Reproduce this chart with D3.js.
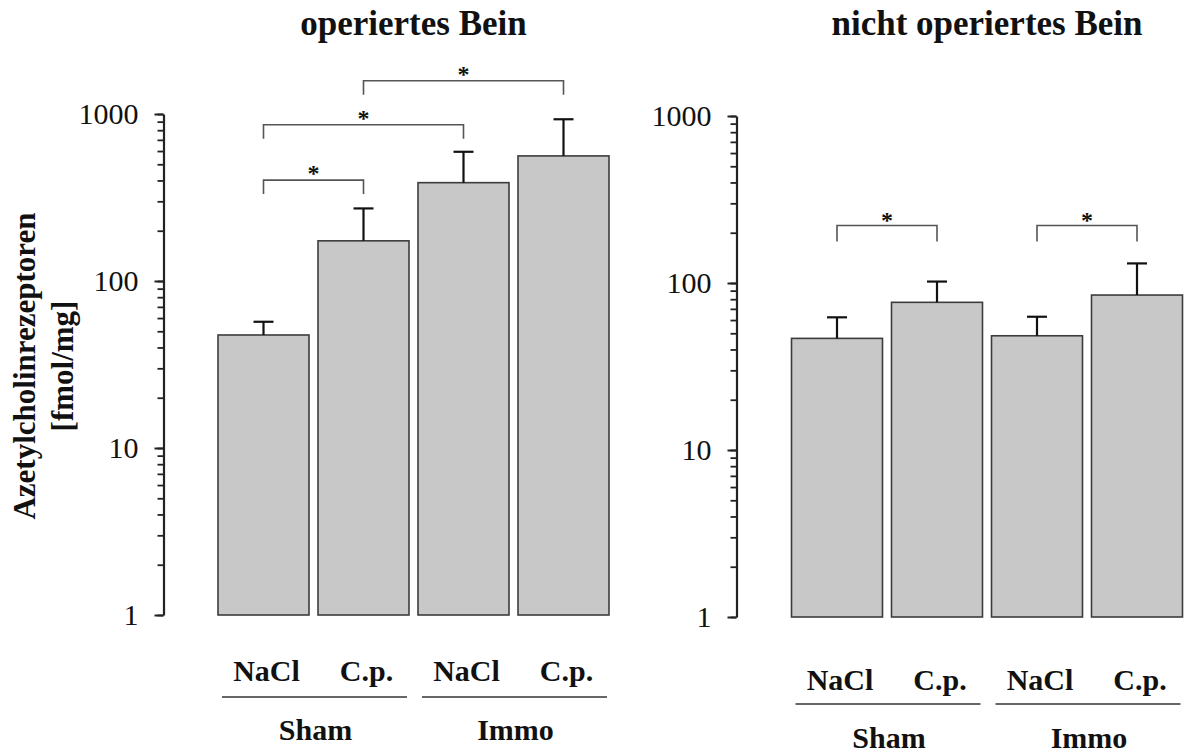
<!DOCTYPE html>
<html>
<head>
<meta charset="utf-8">
<style>
    body { margin: 0; background: #fff; }
    text { font-family: "Liberation Serif", "Times New Roman", serif; fill: #111; }
</style>
</head>
<body>
<div id="chart"></div>
<script src="https://d3js.org/d3.v7.min.js"></script>
<script>

    var w = 1188;
    var h = 756;

    var treatments = ["NaCl", "C.p.", "NaCl", "C.p."];
    var groups = ["Sham", "Immo"];
    var panelTitles = ["operiertes Bein", "nicht operiertes Bein"];
    var yTickLabels = [1, 10, 100, 1000];
    var yTitle = ["Azetylcholinrezeptoren", "[fmol/mg]"];

    // mean and top of the error bar, fmol/mg
    var operiertMean = [47.5, 174, 388, 561];
    var operiertUpper = [57, 272, 594, 930];
    var nichtMean = [46.6, 76.6, 48.3, 84.7];
    var nichtUpper = [62.3, 102, 62.8, 131];

    // significance brackets: [from bar, to bar, height in fmol/mg]
    var operiertSig = [[0, 1, 402], [0, 2, 863], [1, 3, 1583]];
    var nichtSig = [[0, 1, 221], [2, 3, 221]];

    var svg = d3.select("#chart")
        .append("svg")
        .attr("width", w)
        .attr("height", h);

    function drawPanel(p) {
        var g = svg.append("g");

        var x = d3.scaleBand()
            .domain(d3.range(treatments.length))
            .range(p.xRange)
            .paddingInner(0.09)
            .paddingOuter(0.045);
        var y = d3.scaleLog()
            .domain([1, 1000])
            .range(p.yRange);
        var bw = x.bandwidth();
        function cx(i) { return x(i) + bw / 2; }

        // minor ticks
        g.append("g")
            .attr("transform", "translate(" + p.axisX + ",0)")
            .call(d3.axisLeft(y).tickValues(y.ticks()).tickSize(6).tickSizeOuter(0).tickFormat(""))
            .call(function (a) { a.select(".domain").remove(); })
            .selectAll("line").attr("stroke", "#222").attr("stroke-width", 1.8);

        // major ticks + labels
        var ax = g.append("g")
            .attr("transform", "translate(" + p.axisX + ",0)")
            .call(d3.axisLeft(y).tickValues(yTickLabels).tickSize(9).tickSizeOuter(0)
                .tickPadding(16).tickFormat(d3.format("d")));
        ax.select(".domain").attr("stroke", "#222").attr("stroke-width", 2.2);
        ax.selectAll("line").attr("stroke", "#222").attr("stroke-width", 2);
        ax.selectAll("text")
            .attr("font-family", "Liberation Serif, serif")
            .attr("font-size", 30)
            .attr("fill", "#111");

        // bars
        g.selectAll("rect")
            .data(p.mean)
            .enter()
            .append("rect")
            .attr("x", function (d, i) { return x(i); })
            .attr("y", function (d) { return y(d); })
            .attr("width", bw)
            .attr("height", function (d) { return y(1) - y(d); })
            .attr("fill", "#c8c8c8")
            .attr("stroke", "#3c3c3c")
            .attr("stroke-width", 1.6);

        // error bars (upper half only)
        var err = g.selectAll(".err")
            .data(p.upper)
            .enter()
            .append("g")
            .attr("class", "err");
        err.append("line")
            .attr("x1", function (d, i) { return cx(i); })
            .attr("x2", function (d, i) { return cx(i); })
            .attr("y1", function (d, i) { return y(p.mean[i]); })
            .attr("y2", function (d) { return y(d); })
            .attr("stroke", "#111")
            .attr("stroke-width", 2.2);
        err.append("line")
            .attr("x1", function (d, i) { return cx(i) - 10; })
            .attr("x2", function (d, i) { return cx(i) + 10; })
            .attr("y1", function (d) { return y(d); })
            .attr("y2", function (d) { return y(d); })
            .attr("stroke", "#111")
            .attr("stroke-width", 2.2);

        // significance brackets
        var sig = g.selectAll(".sig")
            .data(p.sig)
            .enter()
            .append("g")
            .attr("class", "sig");
        sig.append("path")
            .attr("d", function (d) {
                var yy = y(d[2]);
                return "M" + cx(d[0]) + "," + (yy + p.drop) + "V" + yy + "H" + cx(d[1]) + "V" + (yy + p.drop);
            })
            .attr("fill", "none")
            .attr("stroke", "#555")
            .attr("stroke-width", 1.6);
        sig.append("text")
            .attr("x", function (d) { return (cx(d[0]) + cx(d[1])) / 2; })
            .attr("y", function (d) { return y(d[2]) + p.starDy; })
            .attr("text-anchor", "middle")
            .attr("font-size", 24)
            .attr("font-weight", "bold")
            .text("*");

        // panel title
        g.append("text")
            .attr("x", (p.xRange[0] + p.xRange[1]) / 2)
            .attr("y", 35)
            .attr("text-anchor", "middle")
            .attr("font-size", 35)
            .attr("font-weight", "bold")
            .text(p.title);

        // treatment labels
        var base = y(1);
        g.selectAll(".cat")
            .data(treatments)
            .enter()
            .append("text")
            .attr("class", "cat")
            .attr("x", function (d, i) { return cx(i) + 3; })
            .attr("y", base + p.catDy)
            .attr("text-anchor", "middle")
            .attr("font-size", 30)
            .attr("font-weight", "bold")
            .text(function (d) { return d; });

        // group underline + label
        groups.forEach(function (name, k) {
            var a = k * 2, b = k * 2 + 1;
            g.append("line")
                .attr("x1", x(a) + 4)
                .attr("x2", x(b) + bw - 2)
                .attr("y1", base + p.lineDy)
                .attr("y2", base + p.lineDy)
                .attr("stroke", "#333")
                .attr("stroke-width", 1.6);
            g.append("text")
                .attr("x", (x(a) + x(b) + bw) / 2 + 2)
                .attr("y", base + p.groupDy)
                .attr("text-anchor", "middle")
                .attr("font-size", 30)
                .attr("font-weight", "bold")
                .text(name);
        });
    }

    drawPanel({
        title: panelTitles[0],
        mean: operiertMean,
        upper: operiertUpper,
        sig: operiertSig,
        xRange: [213.5, 613.5],
        yRange: [615, 114],
        axisX: 163.5,
        drop: 14,
        starDy: 1,
        catDy: 66,
        lineDy: 82,
        groupDy: 125
    });

    drawPanel({
        title: panelTitles[1],
        mean: nichtMean,
        upper: nichtUpper,
        sig: nichtSig,
        xRange: [787, 1187],
        yRange: [617, 116],
        axisX: 736.5,
        drop: 16,
        starDy: 3,
        catDy: 73,
        lineDy: 87,
        groupDy: 131
    });

    // y axis title
    var yt = svg.append("g")
        .attr("transform", "translate(35,366) rotate(-90)");
    yt.selectAll("text")
        .data(yTitle)
        .enter()
        .append("text")
        .attr("x", 0)
        .attr("y", function (d, i) { return i * 38; })
        .attr("text-anchor", "middle")
        .attr("font-size", 31)
        .attr("font-weight", "bold")
        .text(function (d) { return d; });

</script>
</body>
</html>
